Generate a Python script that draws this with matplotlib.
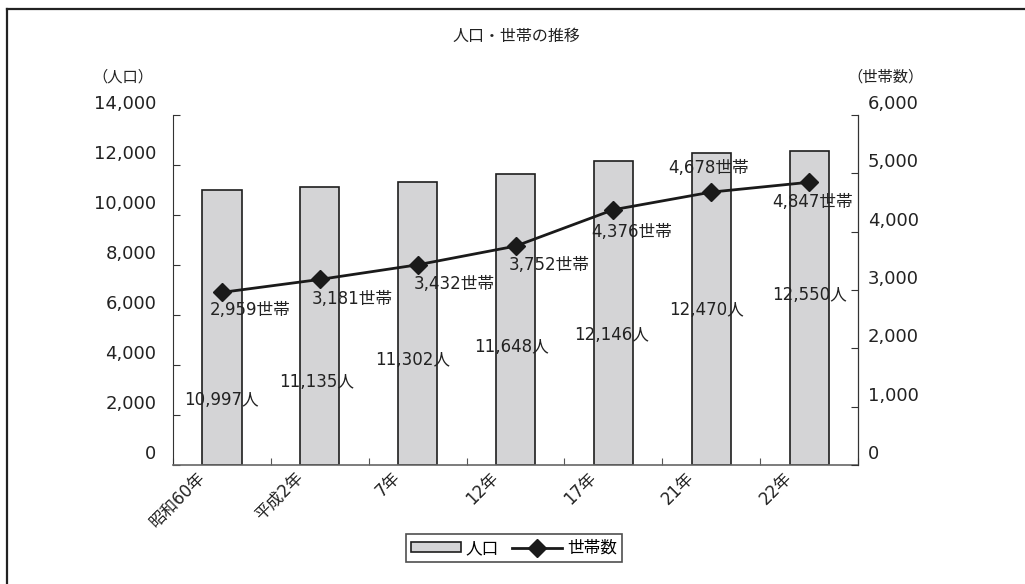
import matplotlib
matplotlib.use("Agg")
import matplotlib.pyplot as plt
from matplotlib.transforms import ScaledTranslation
from matplotlib.lines import Line2D
from matplotlib.patches import Patch
import numpy as np

plt.rcParams['font.family'] = ['DejaVu Sans', 'Noto Sans CJK JP']

categories = ["昭和60年", "平成2年", "7年", "12年", "17年", "21年", "22年"]
population = [10997, 11135, 11302, 11648, 12146, 12470, 12550]
households = [2959, 3181, 3432, 3752, 4376, 4678, 4847]
left_ticks = [0, 2000, 4000, 6000, 8000, 10000, 12000, 14000]
right_ticks = [0, 1000, 2000, 3000, 4000, 5000, 6000]

# label placement (positions only)
pop_label_y = [2600, 3320, 4200, 4720, 5200, 6200, 6800]
pop_label_dx = [0, -3, -5, -4, -2, -5, 0]
hh_label_off = [(28, -18), (32, -20), (37, -19), (34, -19), (18, -22), (-3, 24), (3, -20)]

W, H, DPI = 1025, 584, 100
fig = plt.figure(figsize=(W / DPI, H / DPI), dpi=DPI)
fig.patch.set_facecolor("white")

# frame lines (top & left)
fig.add_artist(Line2D([7 / W, 7 / W], [0, 1 - 9 / H], transform=fig.transFigure, color="#222222", lw=1.6))
fig.add_artist(Line2D([7 / W, 1], [1 - 9 / H, 1 - 9 / H], transform=fig.transFigure, color="#222222", lw=1.6))

x0, x1, ytop, ybot = 173, 858, 115, 465
ax = fig.add_axes([x0 / W, 1 - ybot / H, (x1 - x0) / W, (ybot - ytop) / H])
ax2 = ax.twinx()

x = np.arange(len(categories))
fs = 12
tfs = 13

ax.bar(x, population, width=0.4, color="#d4d4d6", edgecolor="#1e1e1e", linewidth=1.2, zorder=2)
ax.set_xlim(-0.5, len(categories) - 0.5)
ax.set_ylim(0, 14000)
ax.set_yticks(left_ticks)
ax.set_yticklabels([f"{v:,}" for v in left_ticks], fontsize=tfs, color="#222222")
ax.set_xticks(np.arange(len(categories) + 1) - 0.5, minor=False)
ax.set_xticklabels([""] * (len(categories) + 1))
ax.set_xticks(x, minor=True)
ax.set_xticklabels(categories, minor=True, rotation=45, ha="right", va="top",
                   rotation_mode="anchor", fontsize=fs, color="#222222")
ax.tick_params(axis="x", which="major", direction="in", length=5, color="#555555")
ax.tick_params(axis="x", which="minor", length=0, pad=6)
ax.tick_params(axis="y", direction="in", length=5, pad=12, color="#333333")

ax2.plot(x, households, color="#1a1a1a", lw=2, marker="D", markersize=9, zorder=3)
ax2.set_ylim(0, 6000)
ax2.set_yticks(right_ticks)
ax2.set_yticklabels([f"{v:,}" for v in right_ticks], fontsize=tfs, color="#222222")
ax2.tick_params(axis="y", direction="in", length=5, pad=7, color="#333333")

for a in (ax, ax2):
    a.spines["top"].set_visible(False)
ax.spines["left"].set_color("#333333")
ax.spines["bottom"].set_color("#666666")
ax.spines["bottom"].set_linewidth(1.2)
ax2.spines["right"].set_color("#333333")
ax2.spines["left"].set_visible(False)
ax2.spines["bottom"].set_visible(False)
ax.set_zorder(1)
ax2.set_zorder(2)
ax.patch.set_visible(False)

# shift tick labels like the reference
shift = ScaledTranslation(0, 13 / DPI, fig.dpi_scale_trans)
for lab in ax.get_yticklabels() + ax2.get_yticklabels():
    lab.set_transform(lab.get_transform() + shift)
xshift = ScaledTranslation(-26 / DPI, 5 / DPI, fig.dpi_scale_trans)
for lab in ax.get_xticklabels(minor=True):
    lab.set_transform(lab.get_transform() + xshift)

# data labels
for i, v in enumerate(population):
    ax.annotate(f"{v:,}人", xy=(x[i], pop_label_y[i]), xytext=(pop_label_dx[i], 0),
                textcoords="offset pixels", ha="center", va="center", fontsize=fs,
                color="#222222", zorder=5)
for i, v in enumerate(households):
    dx, dy = hh_label_off[i]
    ax2.annotate(f"{v:,}世帯", xy=(x[i], v), xytext=(dx, dy), textcoords="offset pixels",
                 ha="center", va="center", fontsize=fs, color="#222222", zorder=5)

fig.text(516 / W, 1 - 36 / H, "人口・世帯の推移", ha="center", va="center", fontsize=11.5, color="#222222")
fig.text(123 / W, 1 - 77 / H, "（人口）", ha="center", va="center", fontsize=11, color="#222222")
fig.text(885 / W, 1 - 77 / H, "（世帯数）", ha="center", va="center", fontsize=11, color="#222222")

handles = [Patch(facecolor="#d4d4d6", edgecolor="#1e1e1e", linewidth=1.2),
           Line2D([], [], color="#1a1a1a", lw=2, marker="D", markersize=9)]
leg = fig.legend(handles, ["人口", "世帯数"], loc="center", bbox_to_anchor=(514 / W, 1 - 548 / H),
                 ncol=2, fontsize=fs, frameon=True, fancybox=False, handlelength=3,
                 handleheight=0.5, handletextpad=0.3, columnspacing=0.8, borderpad=0.3,
                 borderaxespad=0)
leg.get_frame().set_edgecolor("#222222")
leg.get_frame().set_linewidth(1.2)

fig.savefig("out.png", dpi=DPI, facecolor="white")
